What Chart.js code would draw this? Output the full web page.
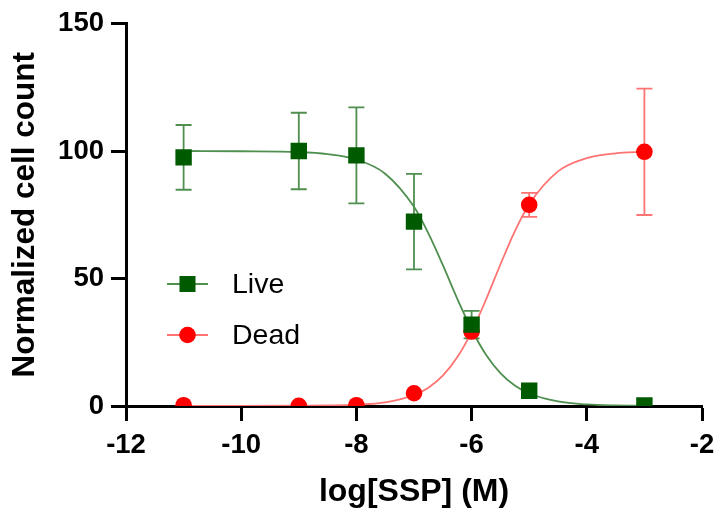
<!DOCTYPE html>
<html>
<head>
<meta charset="utf-8">
<script src="https://cdn.jsdelivr.net/npm/chart.js@4"></script>
<style>
  html, body { margin: 0; padding: 0; background: #fff; }
  #wrap { width: 725px; height: 511px; }
</style>
</head>
<body>
<div id="wrap"><canvas id="c" width="725" height="511"></canvas></div>
<script>
// ---- data ----
const seriesNames = ['Live', 'Dead'];
const doses = [-11, -9, -8, -7, -6, -5, -3];
const liveMean = [97.5, 100, 98.3, 72.3, 31.9, 6.0, 0.2];
const liveErr  = [12.7, 15.0, 18.8, 18.7, 5.4, 0, 0];
const deadMean = [0.3, 0.1, 0.3, 5.0, 29.2, 78.9, 99.7];
const deadErr  = [0, 0, 0, 0, 0, 4.7, 24.8];
// fitted curves
const fitX    = [-11, -10, -9, -8.5, -8, -7.5, -7, -6.75, -6.5, -6.25, -6, -5.75, -5.5, -5.25, -5, -4.5, -4, -3.5, -3];
const liveFit = [100, 99.9, 99.6, 98.8, 96.7, 91.1, 78.1, 67.7, 55.3, 42.1, 30.0, 20.1, 12.9, 8.0, 4.9, 1.8, 0.6, 0.2, 0.1];
const deadFit = [0, 0, 0.1, 0.2, 0.5, 1.4, 4.3, 7.2, 11.9, 19.1, 29.1, 41.7, 55.5, 68.5, 79.1, 92.0, 97.2, 99.1, 99.7];
const xTicks = [-12, -10, -8, -6, -4, -2];
const yTicks = [0, 50, 100, 150];
const xTitle = 'log[SSP] (M)';
const yTitle = 'Normalized cell count';

const GREEN = '#005a00';
const GREEN_LINE = '#4f8f4f';
const RED = '#ff0000';
const RED_LINE = '#ff7373';
const FONT = "'Liberation Sans', Arial, sans-serif";

const pts = (xs, ys) => xs.map((x, i) => ({ x: x, y: ys[i] }));

const errorBars = {
  id: 'errorBars',
  beforeDatasetsDraw(chart) {
    const { ctx, scales: { x, y } } = chart;
    const sets = [
      { m: liveMean, e: liveErr, c: GREEN_LINE },
      { m: deadMean, e: deadErr, c: RED_LINE }
    ];
    ctx.save();
    ctx.lineWidth = 1.8;
    sets.forEach(s => {
      ctx.strokeStyle = s.c;
      doses.forEach((d, i) => {
        if (!s.e[i]) return;
        const px = x.getPixelForValue(d);
        const top = y.getPixelForValue(s.m[i] + s.e[i]);
        const bot = y.getPixelForValue(s.m[i] - s.e[i]);
        ctx.beginPath();
        ctx.moveTo(px, top); ctx.lineTo(px, bot);
        ctx.moveTo(px - 8, top); ctx.lineTo(px + 8, top);
        ctx.moveTo(px - 8, bot); ctx.lineTo(px + 8, bot);
        ctx.stroke();
      });
    });
    ctx.restore();
  }
};

const insideLegend = {
  id: 'insideLegend',
  afterDraw(chart) {
    const { ctx } = chart;
    const items = [
      { label: seriesNames[0], line: GREEN_LINE, fill: GREEN, style: 'rect' },
      { label: seriesNames[1], line: RED_LINE, fill: RED, style: 'circle' }
    ];
    ctx.save();
    items.forEach((it, i) => {
      const cy = 284 + i * 51;
      ctx.strokeStyle = it.line;
      ctx.lineWidth = 2;
      ctx.beginPath(); ctx.moveTo(167, cy); ctx.lineTo(208, cy); ctx.stroke();
      ctx.fillStyle = it.fill;
      if (it.style === 'rect') {
        ctx.fillRect(187.5 - 8, cy - 8, 16, 16);
      } else {
        ctx.beginPath(); ctx.arc(187.5, cy, 8.3, 0, Math.PI * 2); ctx.fill();
      }
      ctx.fillStyle = '#000';
      ctx.font = '28.5px ' + FONT;
      ctx.textBaseline = 'middle';
      ctx.textAlign = 'left';
      ctx.fillText(it.label, 232, cy + 1);
    });
    ctx.restore();
  }
};

new Chart(document.getElementById('c'), {
  type: 'scatter',
  data: {
    datasets: [
      { label: seriesNames[0], data: pts(doses, liveMean), showLine: false,
        pointStyle: 'rect', pointRadius: 11.6, pointBackgroundColor: GREEN, pointBorderColor: GREEN, pointBorderWidth: 0 },
      { label: seriesNames[1], data: pts(doses, deadMean), showLine: false,
        pointStyle: 'circle', pointRadius: 8.3, pointBackgroundColor: RED, pointBorderColor: RED, pointBorderWidth: 0 },
      { label: seriesNames[0] + ' fit', data: pts(fitX, liveFit), showLine: true, pointRadius: 0,
        borderColor: GREEN_LINE, borderWidth: 1.8, cubicInterpolationMode: 'monotone' },
      { label: seriesNames[1] + ' fit', data: pts(fitX, deadFit), showLine: true, pointRadius: 0,
        borderColor: RED_LINE, borderWidth: 1.8, cubicInterpolationMode: 'monotone' }
    ]
  },
  options: {
    responsive: false,
    animation: false,
    devicePixelRatio: 1,
    layout: { padding: { top: 22, right: 23, left: 0, bottom: 0 } },
    plugins: { legend: { display: false }, tooltip: { enabled: false } },
    scales: {
      x: {
        type: 'linear', min: -12, max: -2,
        afterBuildTicks: s => { s.ticks = xTicks.map(v => ({ value: v })); },
        afterFit: s => { s.height = 105; },
        grid: { drawOnChartArea: false, drawTicks: true, tickLength: 15, tickWidth: 3, tickColor: '#000' },
        border: { color: '#000', width: 3 },
        ticks: { color: '#000', padding: 8, font: { family: FONT, size: 27.5, weight: 'bold' } },
        title: { display: true, text: xTitle, color: '#000', padding: { top: 0, bottom: 3 },
                 font: { family: FONT, size: 32, weight: 'bold', lineHeight: 1 } }
      },
      y: {
        type: 'linear', min: 0, max: 150,
        afterBuildTicks: s => { s.ticks = yTicks.map(v => ({ value: v })); },
        afterFit: s => { s.width = 126; },
        grid: { drawOnChartArea: false, drawTicks: true, tickLength: 15, tickWidth: 3, tickColor: '#000' },
        border: { color: '#000', width: 3 },
        ticks: { color: '#000', padding: 7, font: { family: FONT, size: 27.5, weight: 'bold' } },
        title: { display: true, text: yTitle, color: '#000', padding: { top: 10, bottom: 0 },
                 font: { family: FONT, size: 31.5, weight: 'bold', lineHeight: 1 } }
      }
    }
  },
  plugins: [errorBars, insideLegend]
});
</script>
</body>
</html>
